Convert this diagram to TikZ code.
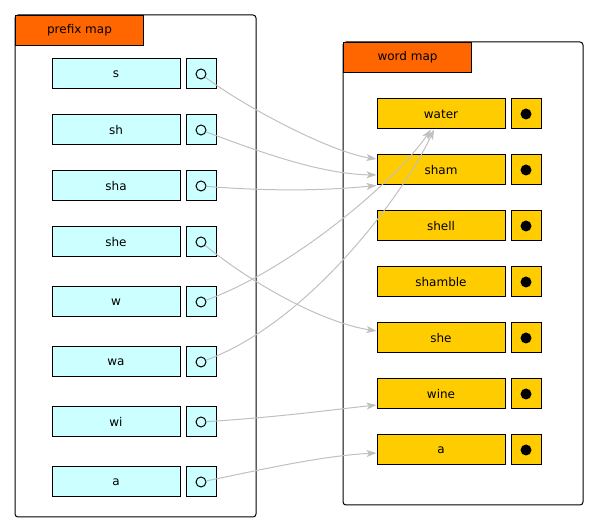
\documentclass[tikz,border=0pt]{standalone}
\usepackage{fontspec}
\setmainfont{DejaVu Sans}
\usetikzlibrary{arrows.meta}

\definecolor{keycyan}{HTML}{CCFFFF}
\definecolor{keygold}{HTML}{FFCC00}
\definecolor{taborange}{HTML}{FF6600}
\definecolor{linkgray}{HTML}{C0C0C0}

\begin{document}
\begin{tikzpicture}[x=1pt, y=1pt,
    every node/.style={font=\fontsize{12pt}{14pt}\selectfont},
    frame/.style={draw, line width=1pt, rounded corners=3pt},
    tab/.style={draw, fill=taborange, line width=1pt, minimum width=128pt, minimum height=30pt, inner sep=0pt, anchor=north west},
    keybox/.style={draw, line width=1pt, minimum width=128pt, minimum height=30pt, inner sep=0pt},
    ptrbox/.style={draw, line width=1pt, minimum width=30pt, minimum height=30pt, inner sep=0pt},
    hollow/.style={draw, circle, line width=1pt, minimum size=10pt, inner sep=0pt},
    solid dot/.style={fill=black, circle, minimum size=11pt, inner sep=0pt},
    link/.style={draw=linkgray, line width=1pt, -{Stealth[length=10pt, width=7pt, inset=2.5pt]}}]
    \useasboundingbox (0,0) rectangle (599,532);

    % prefix map cluster
    \draw[frame] (15,15) rectangle (256,517);
    \node[tab] (prefix-tab) at (15,517) {prefix map};
    \foreach \name/\y in {s/458, sh/402, sha/346, she/290, w/230, wa/170, wi/110, a/50} {
        \node[keybox, fill=keycyan] (p-\name) at (116,\y) {\name};
        \node[ptrbox, fill=keycyan] (p-\name-box) at (201,\y) {};
        \node[hollow] (p-\name-ptr) at (201,\y) {};
    }

    % word map cluster
    \draw[frame] (343,27) rectangle (583,490);
    \node[tab] (word-tab) at (343,490) {word map};
    \foreach \name/\y in {water/418, sham/362, shell/306, shamble/250, she/194, wine/138, a/82} {
        \node[keybox, fill=keygold] (w-\name) at (441,\y) {\name};
        \node[ptrbox, fill=keygold] (w-\name-box) at (526,\y) {};
        \node[solid dot] (w-\name-ptr) at (526,\y) {};
    }

    % prefix pointers into the word map
    \draw[link] (p-s-ptr) .. controls (245,425) and (330,380) .. ([yshift=11pt]w-sham.west);
    \draw[link] (p-sh-ptr) .. controls (260,380) and (320,358) .. ([yshift=-5pt]w-sham.west);
    \draw[link] (p-sha-ptr) .. controls (280,340) and (330,342) .. (w-sham.south west);
    \draw[link] (p-she-ptr) .. controls (250,250) and (320,210) .. ([yshift=7pt]w-she.west);
    \draw[link] (p-w-ptr) .. controls (290,262) and (395,350) .. ([xshift=-10pt]w-water.south);
    \draw[link] (p-wa-ptr) .. controls (310,210) and (405,340) .. ([xshift=-7pt]w-water.south);
    \draw[link] (p-wi-ptr) .. controls (280,115) and (330,122) .. ([yshift=-11pt]w-wine.west);
    \draw[link] (p-a-ptr) .. controls (260,62) and (320,76) .. ([yshift=-3pt]w-a.west);
\end{tikzpicture}
\end{document}
